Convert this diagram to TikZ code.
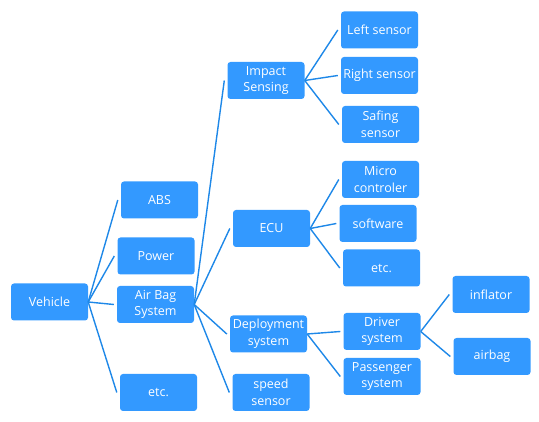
\documentclass[tikz,border=0pt]{standalone}
\usepackage{fontspec}
\setmainfont{Open Sans}
\definecolor{boxblue}{HTML}{3399FF}
\definecolor{lineblue}{HTML}{1E88E8}
\begin{document}
\begin{tikzpicture}[x=1pt,y=-1pt,
  box/.style={fill=boxblue, draw=none, rounded corners=3pt, minimum width=77pt, minimum height=37pt,
    inner sep=0pt, text=white, align=center, font=\fontsize{12.5}{16.5}\selectfont},
  link/.style={draw=lineblue, line width=1.4pt}]
\useasboundingbox (0,0) rectangle (539,422);
\node[box] (veh) at (49.5,302) {Vehicle};
\node[box] (abs) at (159.5,200) {ABS};
\node[box] (pow) at (156,256) {Power};
\node[box] (air) at (155.5,304.5) {Air Bag\\System};
\node[box] (etc1) at (158.5,392.5) {etc.};
\node[box] (imp) at (266,80.5) {Impact\\Sensing};
\node[box] (ecu) at (271.5,228.5) {ECU};
\node[box] (dep) at (268.5,334) {Deployment\\system};
\node[box] (spd) at (271,392.5) {speed\\sensor};
\node[box] (left) at (379.5,30) {Left sensor};
\node[box] (right) at (379.5,75.5) {Right sensor};
\node[box] (saf) at (380.5,124.5) {Safing\\sensor};
\node[box] (mic) at (380.5,179.5) {Micro\\controler};
\node[box] (soft) at (378,223.5) {software};
\node[box] (etc2) at (381.5,268) {etc.};
\node[box] (drv) at (382,331.5) {Driver\\system};
\node[box] (pas) at (382,376.5) {Passenger\\system};
\node[box] (inf) at (491,294.5) {inflator};
\node[box] (bag) at (492,356.5) {airbag};
\foreach \p/\c in {veh/abs, veh/pow, veh/air, veh/etc1,
  air/imp, air/ecu, air/dep, air/spd,
  imp/left, imp/right, imp/saf,
  ecu/mic, ecu/soft, ecu/etc2,
  dep/drv, dep/pas,
  drv/inf, drv/bag}
  \draw[link] (\p.east) -- ([xshift=-3pt]\c.west);
\end{tikzpicture}
\end{document}
